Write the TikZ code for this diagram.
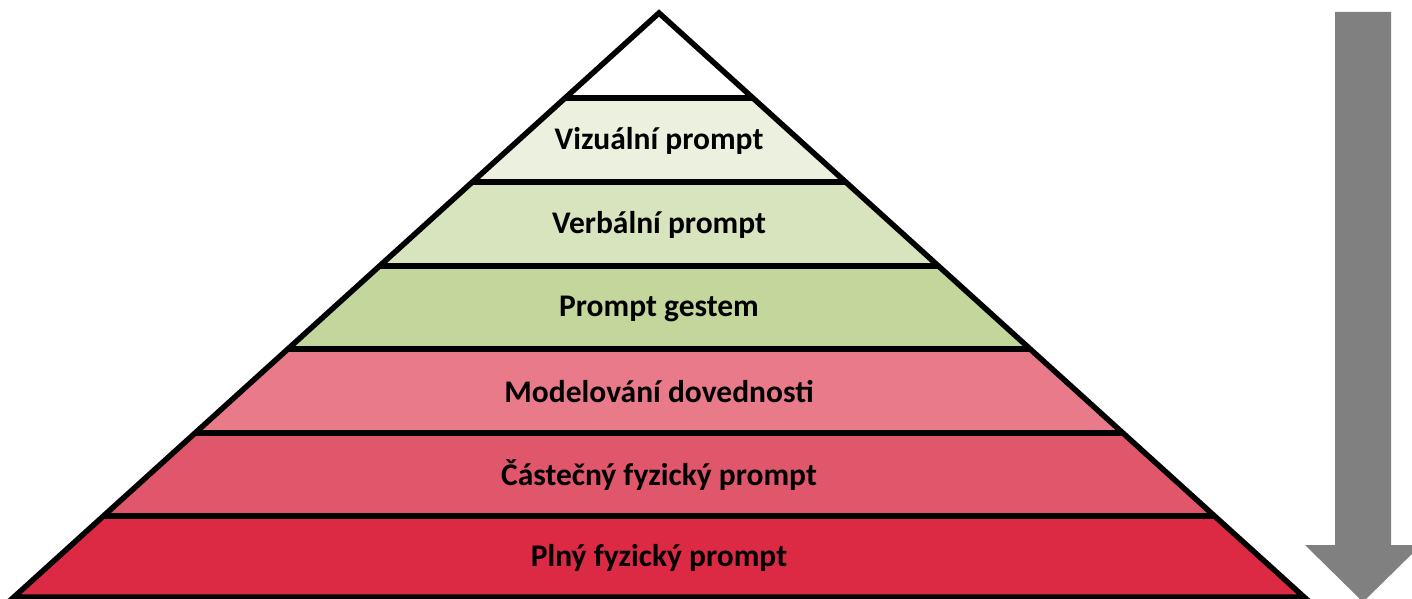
\documentclass[tikz,border=0pt]{standalone}
\usepackage{fontspec}
\setmainfont{Carlito}
\usepackage{xcolor}
\usetikzlibrary{calc}
\definecolor{VizualColor}{HTML}{EBF1DE}
\definecolor{VerbalColor}{HTML}{D7E4BD}
\definecolor{GestoColor}{HTML}{C3D69B}
\definecolor{ModelColor}{HTML}{E97A8A}
\definecolor{CastColor}{HTML}{E0566A}
\definecolor{PlnyColor}{HTML}{DC2A45}
\definecolor{ArrowGray}{HTML}{808080}
\begin{document}
\begin{tikzpicture}[
    x=1pt, y=-1pt,
    outline/.style={draw=black, line width=5.5pt},
    label/.style={font=\fontsize{31.5}{38}\selectfont\bfseries, text=black, inner sep=0pt},
    pointer/.style={fill=ArrowGray}
  ]
    \useasboundingbox (0,0) rectangle (1412,599);
    \coordinate (apex) at (659,13);
    \coordinate (bl) at (14,597);
    \coordinate (br) at (1304,597);
    % layers of the pyramid
    \foreach \ytop/\ybot/\col/\txt/\name in {
        98/182/VizualColor/Vizuální prompt/vizual,
        182/266/VerbalColor/Verbální prompt/verbal,
        266/349/GestoColor/Prompt gestem/gesto,
        349/433/ModelColor/Modelování dovednosti/model,
        433/516/CastColor/Částečný fyzický prompt/castecny,
        516/597/PlnyColor/Plný fyzický prompt/plny} {
      \fill[\col] ($(apex)!{(\ytop-13)/584}!(bl)$) -- ($(apex)!{(\ytop-13)/584}!(br)$)
        -- ($(apex)!{(\ybot-13)/584}!(br)$) -- ($(apex)!{(\ybot-13)/584}!(bl)$) -- cycle;
      \node[label] (\name) at (659,{(\ytop+\ybot)/2+1}) {\txt};
    }
    % outline and dividing lines
    \draw[outline] (apex) -- (br) -- (bl) -- cycle;
    \foreach \y in {98,182,266,349,433,516}
      \draw[outline] ($(apex)!{(\y-13)/584}!(bl)$) -- ($(apex)!{(\y-13)/584}!(br)$);
    % arrow on the right
    \fill[pointer] (1335,12) -- (1391,12) -- (1391,545) -- (1421,545)
      -- (1363,602) -- (1305,545) -- (1335,545) -- cycle;
  \end{tikzpicture}
\end{document}
